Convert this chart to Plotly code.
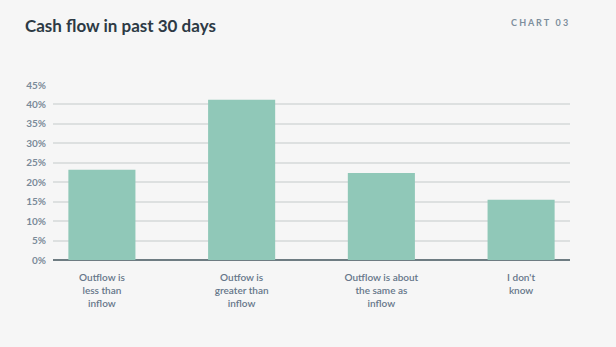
import plotly.graph_objects as go

categories = ["Outflow is<br>less than<br>inflow", "Outfow is<br>greater than<br>inflow",
              "Outflow is about<br>the same as<br>inflow", "I don't<br>know"]
values = [23.2, 41.2, 22.4, 15.5]
tick_vals = [0, 5, 10, 15, 20, 25, 30, 35, 40, 45]
tick_text = [f"{v}%" for v in tick_vals]

fig = go.Figure()
fig.add_trace(go.Bar(
    x=list(range(len(categories))), y=values,
    marker=dict(color="#90c8b8", line=dict(width=0)),
    width=0.48,
))

fig.update_layout(
    width=616, height=347,
    paper_bgcolor="#f6f6f6", plot_bgcolor="#f6f6f6",
    margin=dict(l=53, r=46, t=85, b=87),
    showlegend=False,
    font=dict(family="Lato", color="#6b7a88"),
    xaxis=dict(
        tickmode="array", tickvals=list(range(len(categories))), ticktext=categories,
        range=[-0.35, 3.35], showgrid=False, zeroline=False,
        showline=False, ticks="", ticklabelstandoff=10,
        tickfont=dict(size=10, color="#66768a", weight=600),
        fixedrange=True,
    ),
    yaxis=dict(
        range=[0, 45], tickmode="array", tickvals=tick_vals, ticktext=tick_text,
        showgrid=True, gridcolor="#dde0e0", gridwidth=1.5,
        zeroline=True, zerolinecolor="#6e7c82", zerolinewidth=1.5,
        showline=False, ticks="", ticklabelstandoff=6,
        tickfont=dict(size=10, color="#7a8a99", weight=700),
    ),
    annotations=[
        dict(text="Cash flow in past 30 days", xref="paper", yref="paper",
             x=0, y=1, xanchor="left", yanchor="bottom", showarrow=False,
             xshift=-30, yshift=47,
             font=dict(size=17, color="#2d3a45", family="Lato", weight=700)),
        dict(text="C H A R T   0 3", xref="paper", yref="paper",
             x=1, y=1, xanchor="right", yanchor="bottom", showarrow=False,
             xshift=0, yshift=55,
             font=dict(size=9, color="#7d8e9c", family="Lato", weight=700)),
    ],
)

fig.write_html("out.html")
